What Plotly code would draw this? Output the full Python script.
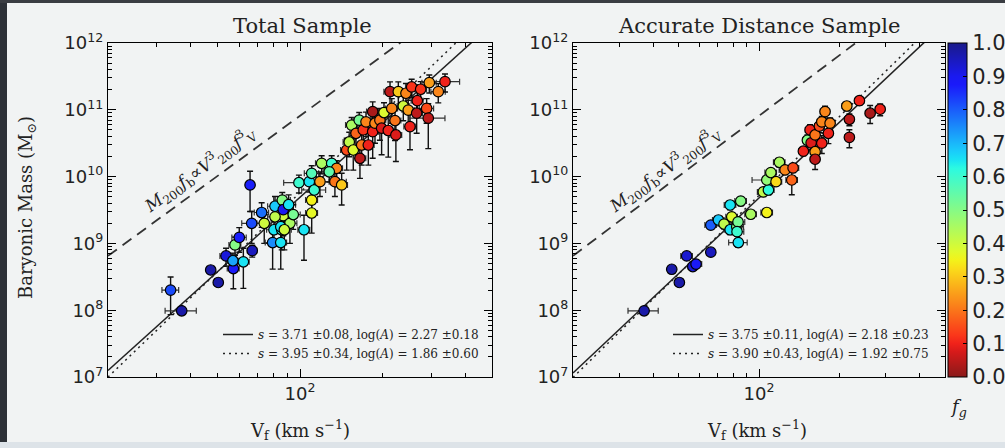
import numpy as np
import plotly.graph_objects as go

# ---------------- data: Total Sample ----------------
total_vf = [33.8, 37.1, 47.3, 50.4, 53.8, 57.2, 57.0, 58.0, 60.1, 62.2,
            67.0, 65.8, 66.7, 72.5, 74.1, 79.5, 80.4, 81.1, 85.1, 85.8,
            86.9, 86.2, 86.9, 91.9, 90.9, 94.5, 103.4, 99.1, 108.1, 110.3,
            110.3, 110.3, 112.7, 118.2, 119.9, 130.4, 136.0, 134.0, 141.8, 81.1,
            85.1, 87.7, 127.8,
            147.9, 151.1, 154.2, 156.3, 159.9, 164.3, 165.3, 167.7, 169.9, 173.9,
            177.3, 183.9, 183.9, 187.5, 195.4, 198.2, 202.2, 209.6, 212.7, 215.8,
            221.8, 223.4, 228.0, 237.7, 243.1, 247.8, 251.4, 255.0, 265.9, 267.3,
            275.0, 289.1, 293.1, 295.6, 318.7, 337.2]
total_mb = [2.0e8, 9.8e7, 4.0e8, 2.6e8, 6.5e8, 4.2e8, 5.5e8, 9.5e8, 1.23e9, 5.3e8,
            7.8e8, 7.5e9, 2.0e9, 2.9e9, 2.0e9, 1.03e9, 1.6e9, 3.6e9, 1.03e9, 1.6e9,
            2.6e9, 4.45e9, 3.2e9, 2.0e9, 3.8e9, 2.7e9, 1.6e9, 8.1e9, 8.4e9, 1.12e10,
            4.45e9, 2.85e9, 6.3e9, 8.4e9, 1.58e10, 1.58e10, 1.33e10, 8.4e9, 7.5e9, 2.5e9,
            1.78e9, 1.6e9, 1.18e10,
            2.5e10, 3.3e10, 5.9e10, 2.5e10, 4.45e10, 7.0e10, 1.88e10, 2.97e10, 5.0e10, 6.6e10,
            2.97e10, 9.4e10, 4.7e10, 6.3e10, 7.0e10, 5.3e10, 9.1e10, 4.9e10, 1.87e11, 1.05e11,
            6.9e10, 4.2e10, 1.87e11, 1.14e11, 1.77e11, 9.9e10, 5.6e10, 2.2e11, 8.9e10, 1.37e11,
            2.03e11, 1.05e11, 7.5e10, 2.55e11, 1.87e11, 2.64e11]
total_fg = [0.82, 0.97, 0.97, 0.97, 0.92, 0.88, 0.72, 0.50, 0.87, 0.65,
            0.95, 0.87, 0.82, 0.78, 0.40, 0.75, 0.65, 0.68, 0.65, 0.62,
            0.40, 0.50, 0.90, 0.45, 0.65, 0.52, 0.65, 0.60, 0.65, 0.57,
            0.35, 0.37, 0.60, 0.25, 0.45, 0.60, 0.22, 0.20, 0.30, 0.42,
            0.65, 0.40, 0.55,
            0.15, 0.42, 0.45, 0.38, 0.18, 0.52, 0.05, 0.20, 0.12, 0.22,
            0.10, 0.03, 0.10, 0.22, 0.20, 0.08, 0.38, 0.10, 0.05, 0.22,
            0.20, 0.08, 0.30, 0.40, 0.22, 0.25, 0.10, 0.12, 0.05, 0.10,
            0.12, 0.15, 0.05, 0.25, 0.22, 0.10]
total_mb_ferr = [0.57, 0.10, 0.10, 0.10, 0.30, 0.50, 0.30, 0.30, 0.40, 0.60,
                 0.20, 0.60, 0.50, 0.40, 0.50, 0.60, 0.40, 0.40, 0.60, 0.50,
                 0.50, 0.30, 0.40, 0.50, 0.40, 0.40, 0.65, 0.30, 0.30, 0.30,
                 0.40, 0.50, 0.30, 0.40, 0.30, 0.30, 0.30, 0.40, 0.50, 0.40,
                 0.40, 0.50, 0.30,
                 0.50, 0.40, 0.30, 0.50, 0.40, 0.30, 0.50, 0.50, 0.40, 0.40,
                 0.50, 0.40, 0.60, 0.50, 0.50, 0.60, 0.40, 0.60, 0.40, 0.40,
                 0.50, 0.60, 0.40, 0.40, 0.40, 0.40, 0.55, 0.30, 0.50, 0.40,
                 0.30, 0.40, 0.65, 0.30, 0.32, 0.30]
total_vf_ferr = [0.07, 0.13, 0.03, 0.03, 0.05, 0.05, 0.05, 0.05, 0.06, 0.05,
                 0.04, 0.03, 0.08, 0.06, 0.06, 0.06, 0.06, 0.06, 0.05, 0.06,
                 0.06, 0.07, 0.06, 0.06, 0.06, 0.06, 0.05, 0.12, 0.08, 0.06,
                 0.05, 0.05, 0.10, 0.08, 0.05, 0.05, 0.05, 0.10, 0.05, 0.06,
                 0.06, 0.06, 0.05,
                 0.05, 0.05, 0.05, 0.05, 0.05, 0.05, 0.05, 0.05, 0.05, 0.05,
                 0.05, 0.05, 0.05, 0.05, 0.05, 0.05, 0.05, 0.05, 0.05, 0.05,
                 0.05, 0.05, 0.05, 0.05, 0.05, 0.05, 0.05, 0.05, 0.05, 0.05,
                 0.05, 0.06, 0.15, 0.06, 0.06, 0.13]

# ---------------- data: Accurate Distance Sample ----------------
acc_vf = [37.0, 47.0, 50.2, 53.5, 56.4, 58.0, 65.9, 65.9, 70.4, 73.9,
          77.9, 79.0, 77.9, 82.5, 83.4, 85.4, 82.7, 83.6, 93.1, 107.0,
          103.8, 108.5, 107.0, 110.8, 115.9, 119.3, 125.3, 132.8, 134.3, 146.8,
          152.0, 155.6, 157.0, 162.5, 162.5, 162.5, 168.6, 172.2, 172.2, 177.1,
          182.3, 185.0, 213.8, 218.6, 218.6, 238.4, 261.6, 285.3]
acc_mb = [9.8e7, 4.1e8, 2.6e8, 6.5e8, 4.5e8, 4.9e8, 7.4e8, 1.88e9, 2.24e9, 1.95e9,
          3.76e9, 2.5e9, 1.6e9, 1.78e9, 2.1e9, 4.3e9, 1.5e9, 1.03e9, 2.73e9, 2.9e9,
          5.9e9, 6.3e9, 8.9e9, 1.15e10, 8.4e9, 1.64e10, 1.26e10, 8.9e9, 1.35e10, 2.4e10,
          3.5e10, 5.0e10, 3.2e10, 4.2e10, 2.36e10, 1.82e10, 5.7e10, 3.16e10, 6.6e10, 9.4e10,
          4.45e10, 6.3e10, 1.14e11, 7.2e10, 3.87e10, 1.37e11, 8.9e10, 1.02e11]
acc_fg = [0.97, 0.97, 0.97, 0.93, 0.93, 0.88, 0.95, 0.80, 0.68, 0.42,
          0.65, 0.38, 0.65, 0.50, 0.52, 0.50, 0.60, 0.65, 0.45, 0.35,
          0.42, 0.62, 0.48, 0.45, 0.32, 0.45, 0.22, 0.18, 0.15, 0.10,
          0.50, 0.10, 0.08, 0.20, 0.25, 0.05, 0.15, 0.10, 0.22, 0.22,
          0.10, 0.22, 0.25, 0.05, 0.05, 0.10, 0.03, 0.10]
acc_mb_ferr = [0.05, 0.05, 0.05, 0.10, 0.10, 0.10, 0.10, 0.10, 0.10, 0.15,
               0.15, 0.15, 0.15, 0.15, 0.15, 0.15, 0.15, 0.15, 0.10, 0.10,
               0.15, 0.15, 0.10, 0.10, 0.10, 0.15, 0.15, 0.40, 0.15, 0.15,
               0.20, 0.20, 0.20, 0.20, 0.20, 0.30, 0.20, 0.30, 0.20, 0.20,
               0.30, 0.20, 0.15, 0.20, 0.30, 0.15, 0.30, 0.20]
acc_vf_ferr = [0.13, 0.03, 0.03, 0.05, 0.04, 0.05, 0.03, 0.05, 0.05, 0.05,
               0.05, 0.05, 0.05, 0.06, 0.06, 0.05, 0.06, 0.08, 0.05, 0.05,
               0.05, 0.05, 0.12, 0.05, 0.05, 0.05, 0.05, 0.05, 0.05, 0.04,
               0.04, 0.04, 0.04, 0.04, 0.04, 0.04, 0.04, 0.04, 0.04, 0.04,
               0.04, 0.04, 0.04, 0.04, 0.04, 0.04, 0.04, 0.04]

# fits: (slope s, log A)
fit_total_solid = (3.71, 2.27)
fit_total_dotted = (3.95, 1.86)
fit_acc_solid = (3.75, 2.18)
fit_acc_dotted = (3.90, 1.92)
label_total_solid = "<i>s</i> = 3.71 ±0.08, log(<i>A</i>) = 2.27 ±0.18"
label_total_dotted = "<i>s</i> = 3.95 ±0.34, log(<i>A</i>) = 1.86 ±0.60"
label_acc_solid = "<i>s</i> = 3.75 ±0.11, log(<i>A</i>) = 2.18 ±0.23"
label_acc_dotted = "<i>s</i> = 3.90 ±0.43, log(<i>A</i>) = 1.92 ±0.75"
halo_relation = (3.0, 4.91)   # M200 fb ∝ V200^3 fV^3 (dashed)

v_range = (20, 500)
m_range = (1e7, 1e12)
y_ticks = [1e7, 1e8, 1e9, 1e10, 1e11, 1e12]
y_ticktext = ["10<sup>7</sup>", "10<sup>8</sup>", "10<sup>9</sup>", "10<sup>10</sup>",
              "10<sup>11</sup>", "10<sup>12</sup>"]
x_ticks = [100]
x_ticktext = ["10<sup>2</sup>"]
cbar_ticks = [0.0, 0.1, 0.2, 0.3, 0.4, 0.5, 0.6, 0.7, 0.8, 0.9, 1.0]

# ---------------- styling ----------------
W, H = 1005, 448
BG = "#f1f3f3"
SERIF = "DejaVu Serif"
SANS = "DejaVu Sans"


def jet(t):
    r = np.interp(t, [0, 0.35, 0.66, 0.89, 1], [0, 0, 1, 1, 0.5])
    g = np.interp(t, [0, 0.125, 0.375, 0.64, 0.91, 1], [0, 0, 1, 1, 0, 0])
    b = np.interp(t, [0, 0.11, 0.34, 0.65, 1], [0.5, 1, 1, 0, 0])
    # slightly washed, as in the reference
    mix = 0.12
    r, g, b = [(1 - mix) * c + mix * 0.85 for c in (r, g, b)]
    return f"rgb({int(r*255)},{int(g*255)},{int(b*255)})"


colorscale = [[p, jet(1 - p)] for p in np.linspace(0, 1, 41)]

minor_y = [k * 10 ** d for d in range(7, 12) for k in range(2, 10)]
minor_x = [30, 40, 50, 60, 70, 80, 90, 200, 300, 400]

px = lambda x: x / W
py = lambda y: (H - y) / H

fig = go.Figure()

panels = [
    ("x", "y", total_vf, total_mb, total_fg, total_mb_ferr, total_vf_ferr,
     fit_total_solid, fit_total_dotted, label_total_solid, label_total_dotted, "legend"),
    ("x2", "y2", acc_vf, acc_mb, acc_fg, acc_mb_ferr, acc_vf_ferr,
     fit_acc_solid, fit_acc_dotted, label_acc_solid, label_acc_dotted, "legend2"),
]

for xa, ya, vf, mb, fg, mfe, vfe, fs, fd, ls, ld, leg in panels:
    vf = np.array(vf); mb = np.array(mb)
    vline = np.array(v_range, dtype=float)
    # dashed halo relation
    fig.add_trace(go.Scatter(x=vline, y=10 ** (halo_relation[1] + halo_relation[0] * np.log10(vline)),
                             mode="lines", line=dict(color="#333", width=1.8, dash="11px,7px"),
                             showlegend=False, xaxis=xa, yaxis=ya, hoverinfo="skip"))
    fig.add_trace(go.Scatter(x=vline, y=10 ** (fs[1] + fs[0] * np.log10(vline)),
                             mode="lines", line=dict(color="#222", width=1.5),
                             name=ls, legend=leg, xaxis=xa, yaxis=ya))
    fig.add_trace(go.Scatter(x=vline, y=10 ** (fd[1] + fd[0] * np.log10(vline)),
                             mode="lines", line=dict(color="#222", width=1.5, dash="2px,4px"),
                             name=ld, legend=leg, xaxis=xa, yaxis=ya))
    fig.add_trace(go.Scatter(
        x=vf, y=mb, mode="markers", showlegend=False, xaxis=xa, yaxis=ya,
        marker=dict(size=10.5, color=fg, coloraxis="coloraxis",
                    line=dict(color="black", width=1.2)),
        error_y=dict(type="data", array=mb * np.array(mfe), arrayminus=mb * np.array(mfe),
                     color="#111", thickness=1.4, width=3),
        error_x=dict(type="data", array=vf * np.array(vfe), arrayminus=vf * np.array(vfe),
                     color="#333", thickness=1.2, width=3),
    ))


def xaxis_cfg(dom, anchor):
    return dict(type="log", range=[np.log10(v_range[0]), np.log10(v_range[1])], domain=dom,
                anchor=anchor, tickvals=x_ticks, ticktext=x_ticktext, ticks="inside", ticklen=8,
                tickcolor="black", mirror="allticks", showline=True, linecolor="black",
                linewidth=1.2, showgrid=False, zeroline=False,
                tickfont=dict(family=SANS, size=18, color="#222"),
                minor=dict(tickvals=minor_x, ticks="inside", ticklen=4, tickcolor="black",
                           showgrid=False))


def yaxis_cfg(dom, anchor):
    return dict(type="log", range=[7, 12], domain=dom, anchor=anchor,
                tickvals=y_ticks, ticktext=y_ticktext, ticks="inside", ticklen=8,
                tickcolor="black", mirror="allticks", showline=True, linecolor="black",
                linewidth=1.2, showgrid=False, zeroline=False,
                tickfont=dict(family=SANS, size=18, color="#222"),
                minor=dict(tickvals=minor_y, ticks="inside", ticklen=4, tickcolor="black",
                           showgrid=False))


ydom = [py(377), py(43)]
fig.update_layout(
    width=W, height=H,
    margin=dict(l=0, r=0, t=0, b=0, autoexpand=False),
    paper_bgcolor=BG, plot_bgcolor=BG,
    xaxis=xaxis_cfg([px(108), px(492)], "y"),
    yaxis=yaxis_cfg(ydom, "x"),
    xaxis2=xaxis_cfg([px(573), px(945)], "y2"),
    yaxis2=yaxis_cfg(ydom, "x2"),
    coloraxis=dict(colorscale=colorscale, cmin=0, cmax=1,
                   colorbar=dict(x=px(948), xanchor="left", xref="paper", xpad=0, ypad=0,
                                 y=py(377), yanchor="bottom", len=334 / H, lenmode="fraction",
                                 thickness=19, thicknessmode="pixels",
                                 outlinecolor="black", outlinewidth=1,
                                 tickvals=cbar_ticks, ticktext=[f"{t:.1f}" for t in cbar_ticks],
                                 ticks="inside", ticklen=4, tickcolor="black",
                                 tickfont=dict(family=SANS, size=21, color="#222"))),
    legend=dict(x=px(484), xanchor="right", y=py(320), yanchor="top",
                bgcolor="rgba(0,0,0,0)", font=dict(family=SERIF, size=12, color="#222"),
                itemwidth=30),
    legend2=dict(x=px(934), xanchor="right", y=py(320), yanchor="top",
                 bgcolor="rgba(0,0,0,0)", font=dict(family=SERIF, size=12, color="#222"),
                 itemwidth=30),
    showlegend=True,
)


def pann(text, x, y, size, angle=0):
    return dict(text=text, x=px(x), y=py(y), xref="paper", yref="paper", xanchor="center",
                yanchor="middle", textangle=angle, showarrow=False,
                font=dict(family=SERIF, size=size, color="#222"))


ann = [
    pann("Total Sample", 302, 26, 21),
    pann("Accurate Distance Sample", 759, 26, 21),
    pann("Baryonic Mass (M<sub>⊙</sub>)", 27, 208, 18, -90),
    pann("V<sub>f</sub> (km s<sup>−1</sup>)", 300, 430, 18),
    pann("V<sub>f</sub> (km s<sup>−1</sup>)", 757, 430, 18),
    pann("<i>f<sub>g</sub></i>", 958, 408, 18),
]
formula = "<i>M</i><sub>200</sub><i>f</i><sub>b</sub>∝<i>V</i><sup>3</sup><sub>200</sub><i>f</i><sup>3</sup><sub>V</sub>"
for xa, ya, vx in (("x", "y", 43.3), ("x2", "y2", 44.4)):
    ann.append(dict(text=formula, x=np.log10(vx), y=10.1, xref=xa, yref=ya, showarrow=False,
                    xanchor="center", yanchor="middle",
                    textangle=-36, font=dict(family=SERIF, size=17, color="#222")))
fig.update_layout(annotations=ann)

shapes = [
    dict(type="rect", xref="paper", yref="paper", x0=0, x1=px(7), y0=0, y1=1,
         fillcolor="#2d3137", line=dict(width=0), layer="below"),
    dict(type="rect", xref="paper", yref="paper", x0=0, x1=1, y0=py(3), y1=1,
         fillcolor="#3a3d42", line=dict(width=0), layer="below"),
    dict(type="rect", xref="paper", yref="paper", x0=0, x1=1, y0=0, y1=py(442),
         fillcolor="#dde3e8", line=dict(width=0), layer="below"),
]
fig.update_layout(shapes=shapes)

fig.write_html("out.html")
